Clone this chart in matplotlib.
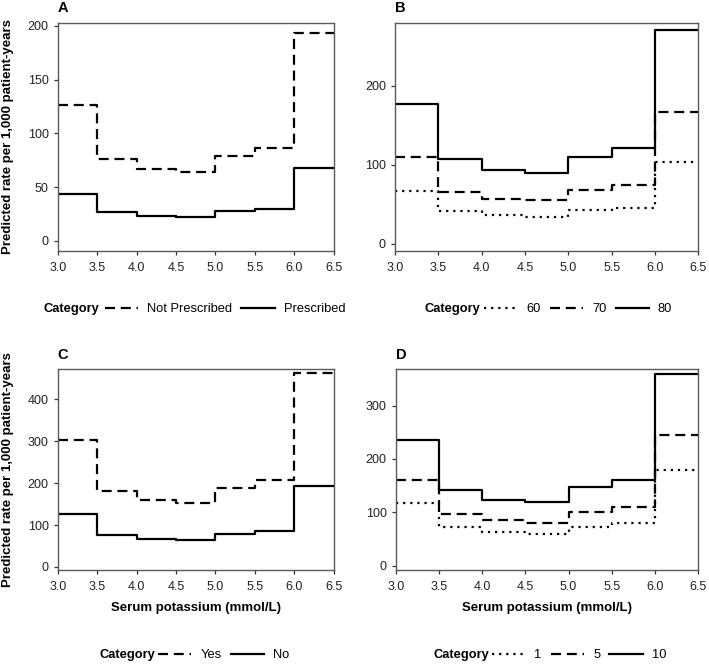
import numpy as np
import matplotlib
matplotlib.use("Agg")
import matplotlib.pyplot as plt
from matplotlib.lines import Line2D

plt.rcParams['font.family'] = ['Liberation Sans', 'DejaVu Sans']

# serum potassium bin edges (mmol/L)
edges = [3.0, 3.5, 4.0, 4.5, 5.0, 5.5, 6.0, 6.5]

# panel A: prescription status
a_not_prescribed = [126.5, 76.5, 66.5, 64, 79, 86, 193]
a_prescribed = [44, 26.5, 23, 22, 27.5, 29.5, 67.5]

# panel B: age
b_60 = [67, 41, 36, 33.5, 42, 45, 103]
b_70 = [110, 65.5, 57, 55, 68, 74.5, 167]
b_80 = [177, 107, 93, 89, 110, 120.5, 270.5]

# panel C: yes / no
c_yes = [304, 182, 160, 153.5, 189, 207, 463.5]
c_no = [127, 76, 67, 63.5, 79, 86, 194]

# panel D: 1 / 5 / 10
d_1 = [118, 72, 63, 59, 73, 80.5, 179.5]
d_5 = [160, 97.5, 85, 80, 100, 109.5, 245]
d_10 = [236, 142, 124, 119, 147, 160.5, 360]

xticks = [3.0, 3.5, 4.0, 4.5, 5.0, 5.5, 6.0, 6.5]

W, H = 709, 664
DOT = (0, (1, 2.2))
DASH = (0, (4.5, 2.6))
SOLID = '-'

fig = plt.figure(figsize=(W / 100, H / 100), dpi=100)


def px_axes(left, top, right, bottom):
    return fig.add_axes([left / W, 1 - bottom / H, (right - left) / W, (bottom - top) / H])


panels = [
    dict(box=(57.7, 23, 333.7, 251), letter='A', ylim=(-9.3, 202.5), yticks=[0, 50, 100, 150, 200],
         series=[(a_not_prescribed, DASH, 'Not Prescribed'), (a_prescribed, SOLID, 'Prescribed')],
         cat_x=43, leg_x=105, leg_y=309, xlabel=False, ylabel=True),
    dict(box=(395, 22.7, 698.3, 250.7), letter='B', ylim=(-8.9, 279.7), yticks=[0, 100, 200],
         series=[(b_60, DOT, '60'), (b_70, DASH, '70'), (b_80, SOLID, '80')],
         cat_x=425, leg_x=484, leg_y=309, xlabel=False, ylabel=False),
    dict(box=(57.7, 369.3, 333.7, 570), letter='C', ylim=(-7.2, 471.6), yticks=[0, 100, 200, 300, 400],
         series=[(c_yes, DASH, 'Yes'), (c_no, SOLID, 'No')],
         cat_x=100, leg_x=158, leg_y=655, xlabel=True, ylabel=True),
    dict(box=(395.7, 369.3, 698.3, 570), letter='D', ylim=(-8.1, 368), yticks=[0, 100, 200, 300],
         series=[(d_1, DOT, '1'), (d_5, DASH, '5'), (d_10, SOLID, '10')],
         cat_x=433, leg_x=492, leg_y=655, xlabel=True, ylabel=False),
]

frame_col = '#5a5a5a'
for p in panels:
    left, top, right, bottom = p['box']
    ax = px_axes(left, top, right, bottom)
    handles = []
    for vals, ls, lab in p['series']:
        yy = np.append(vals, vals[-1])
        ax.step(edges, yy, where='post', color='black', lw=1.6, linestyle=ls)
        handles.append(Line2D([], [], color='black', lw=1.6, linestyle=ls, label=lab))
    ax.set_xlim(3.0, 6.5)
    ax.set_ylim(*p['ylim'])
    ax.set_xticks(xticks)
    ax.set_xticklabels([f"{t:.1f}" for t in xticks])
    ax.set_yticks(p['yticks'])
    ax.tick_params(length=3, width=0.9, color='#333333', labelsize=9, labelcolor='#222222')
    ax.tick_params(axis='x', pad=5)
    ax.tick_params(axis='y', pad=3.5)
    for s in ax.spines.values():
        s.set_color(frame_col)
        s.set_linewidth(1.0)

    fig.text(left / W, 1 - 8.5 / H if p['letter'] in 'AB' else 1 - 355 / H, p['letter'],
             fontsize=10.5, fontweight='bold', ha='left', va='center')

    if p['ylabel']:
        fig.text(8.5 / W, 1 - (top + bottom) / 2 / H, 'Predicted rate per 1,000 patient-years',
                 rotation=90, fontsize=9.5, fontweight='bold', ha='center', va='center')
    if p['xlabel']:
        fig.text((left + right) / 2 / W, 1 - 607.5 / H, 'Serum potassium (mmol/L)',
                 fontsize=9.5, fontweight='bold', ha='center', va='center')

    # legend row: bold "Category" then the keys
    fig.text(p['cat_x'] / W, 1 - p['leg_y'] / H, 'Category', fontsize=9.25,
             fontweight='bold', ha='left', va='center')
    fig.legend(handles=handles, loc='center left', bbox_to_anchor=(p['leg_x'] / W, 1 - p['leg_y'] / H),
               ncol=len(handles), frameon=False, fontsize=9.25, borderpad=0, borderaxespad=0,
               handlelength=2.6, handletextpad=0.7, columnspacing=0.7)

fig.savefig('out.png', dpi=100)
